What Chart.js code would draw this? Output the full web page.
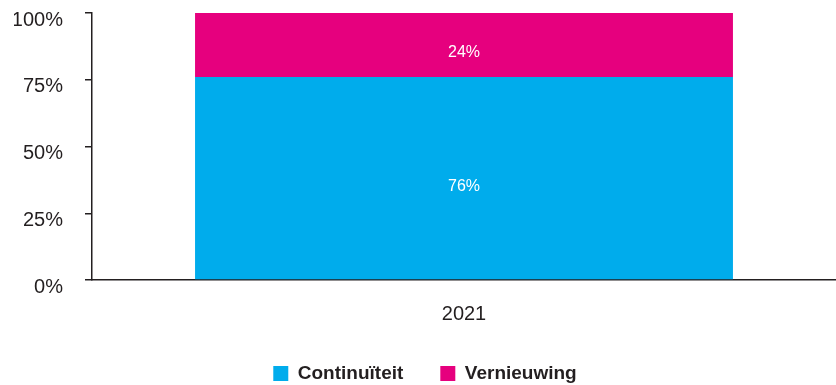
<!DOCTYPE html>
<html>
<head>
<meta charset="utf-8">
<script src="https://cdn.jsdelivr.net/npm/chart.js@4.4.1/dist/chart.umd.min.js"></script>
<style>
html,body{margin:0;padding:0;background:#fff;}
#wrap{width:836px;height:385px;position:relative;}
</style>
</head>
<body>
<div id="wrap"><canvas id="c"></canvas></div>
<script>
const categories = ["2021"];
const continuiteit = [76];
const vernieuwing = [24];
const yTicks = [0, 25, 50, 75, 100];

const FONT = "'Liberation Sans', Arial, sans-serif";
const DARK = '#231f20';

const labelPlugin = {
  id: 'inlabels',
  afterDatasetsDraw(chart) {
    const ctx = chart.ctx;
    ctx.save();
    ctx.fillStyle = '#ffffff';
    ctx.font = '16px ' + FONT;
    ctx.textAlign = 'center';
    ctx.textBaseline = 'middle';
    chart.data.datasets.forEach((ds, i) => {
      const meta = chart.getDatasetMeta(i);
      meta.data.forEach((el, j) => {
        const p = el.getCenterPoint();
        ctx.fillText(ds.data[j] + '%', p.x, p.y + 8);
      });
    });
    ctx.restore();
  }
};

new Chart(document.getElementById('c'), {
  type: 'bar',
  data: {
    labels: categories,
    datasets: [
      { label: 'Continuïteit', data: continuiteit, backgroundColor: '#00acec', categoryPercentage: 1, barPercentage: 0.723 },
      { label: 'Vernieuwing', data: vernieuwing, backgroundColor: '#e6007e', categoryPercentage: 1, barPercentage: 0.723 }
    ]
  },
  options: {
    responsive: true,
    maintainAspectRatio: false,
    animation: false,
    layout: { padding: { top: 13, right: 0, bottom: -8, left: 14 } },
    plugins: {
      tooltip: { enabled: false },
      legend: {
        position: 'bottom',
        labels: {
          boxWidth: 15, boxHeight: 15, padding: 37,
          color: DARK,
          font: { family: FONT, size: 19, weight: 'bold', lineHeight: 1 }
        }
      }
    },
    scales: {
      x: {
        stacked: true,
        grid: { display: false, drawTicks: false },
        border: { display: true, color: DARK, width: 1.5 },
        ticks: { color: DARK, font: { family: FONT, size: 20 }, padding: 22 },
        afterFit(s) { s.height = 47; }
      },
      y: {
        stacked: true,
        min: 0, max: 100,
        afterBuildTicks(s) { s.ticks = yTicks.map(v => ({ value: v })); },
        grid: { drawOnChartArea: false, drawTicks: true, tickLength: 7, color: DARK, lineWidth: 1.5 },
        border: { display: true, color: DARK, width: 1.5 },
        ticks: { color: DARK, font: { family: FONT, size: 20 }, padding: 22, labelOffset: 7, callback: v => v + '%' },
        afterFit(s) { s.width = 78; s.paddingTop = 0; s.paddingBottom = 0; }
      }
    }
  },
  plugins: [labelPlugin]
});
</script>
</body>
</html>
